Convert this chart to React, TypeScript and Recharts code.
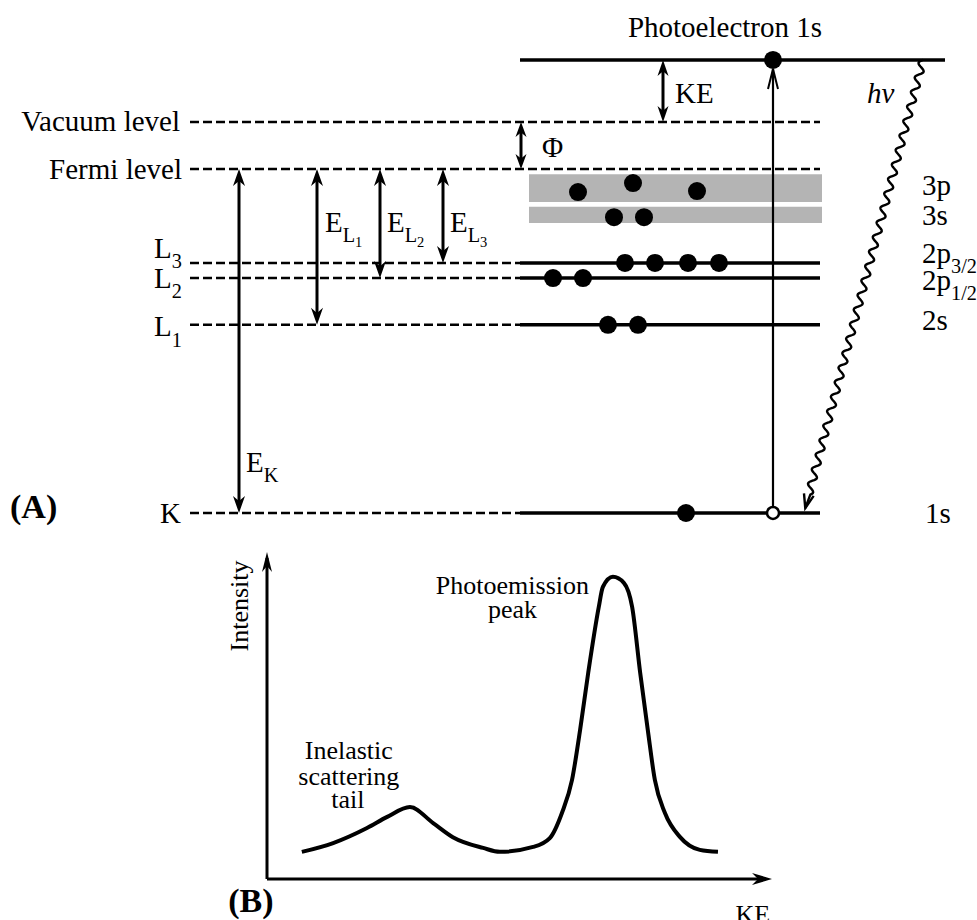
import React from "react";
import { ComposedChart, XAxis, YAxis, Scatter, Line, ReferenceLine, ReferenceArea } from "recharts";

const SERIF = '"Liberation Serif", "Times New Roman", serif';

// ---------- (A) energy levels, arbitrary energy units, Fermi level = 0
const photoelectronLevel = 31.7;
const levelNames = ["Vacuum level", "Fermi level", "L3", "L2", "L1", "K"];
const levelEnergies = [13.7, 0, -27.3, -31.7, -45.3, -100];
const bandNames = ["3p", "3s"];
const bandTops = [-1.5, -11.0];
const bandBottoms = [-9.6, -15.7];

// electrons: slot along the level and energy
const electronSlots = [773, 578, 633, 697, 614, 644, 625, 655, 688, 719, 553, 583, 608, 638, 686];
const electronEnergies = [31.7, -6.7, -4.1, -6.4, -14.0, -14.0, -27.3, -27.3, -27.3, -27.3, -31.7, -31.7, -45.3, -45.3, -100];
const holeSlot = 773;
const holeEnergy = -100;

// binding energy arrows: slot, from (Fermi) -> level
const bindingSlots = [239, 317, 380, 443];
const bindingLevels = [-100, -45.3, -31.7, -27.3];

// ---------- (B) spectrum
const kineticEnergy = [6.9, 13.1, 19.8, 23.8, 28.3, 32.9, 36.8, 42.8, 46.1, 52.7, 56.0, 58.4, 60.4, 62.0, 63.6, 65.7, 66.5, 68.5, 70.7, 72.3, 73.9, 75.4, 76.8, 78.8, 81.8, 85.7, 89.3];
const intensity = [8.3, 11.0, 15.6, 19.0, 22.0, 17.1, 12.8, 9.5, 8.3, 9.8, 12.5, 20.2, 30.3, 45.6, 63.0, 83.2, 89.3, 92.4, 90.5, 83.2, 63.0, 45.6, 30.3, 20.2, 12.8, 8.9, 8.3];
const spectrum = kineticEnergy.map((k, i) => ({ ke: k, intensity: intensity[i] }));

// layout
const A_X: [number, number] = [0, 977];
const A_Y: [number, number] = [-107.85, 49.13];
const B_X: [number, number] = [-52.87, 140.59];
const B_Y: [number, number] = [-12.54, 103.67];
const DASH_X0 = 190;
const SOLID_X0 = 520;
const LEVEL_X1 = 820;

type Part = [string, number];
interface Lbl {
  x: number;
  e: number;
  parts: Part[];
  anchor?: string;
  size?: number;
  bold?: boolean;
  italic?: boolean;
  rotate?: number;
}

const labelsA: Lbl[] = [
  { x: 725, e: 41.3, parts: [["Photoelectron 1s", 0]], anchor: "middle" },
  { x: 180, e: 13.7, parts: [[levelNames[0], 0]], anchor: "end" },
  { x: 182, e: 0, parts: [[levelNames[1], 0]], anchor: "end" },
  { x: 154, e: -23.0, parts: [["L", 0], ["3", 1]] },
  { x: 154, e: -31.7, parts: [["L", 0], ["2", 1]] },
  { x: 154, e: -45.9, parts: [["L", 0], ["1", 1]] },
  { x: 160, e: -100, parts: [[levelNames[5], 0]] },
  { x: 10, e: -98.3, parts: [["(A)", 0]], bold: true, size: 34 },
  { x: 246, e: -85.2, parts: [["E", 0], ["K", 1]] },
  { x: 325, e: -15.4, parts: [["E", 0], ["L", 1], ["1", 2]] },
  { x: 387, e: -15.4, parts: [["E", 0], ["L", 1], ["2", 2]] },
  { x: 450, e: -15.4, parts: [["E", 0], ["L", 1], ["3", 2]] },
  { x: 675, e: 22.1, parts: [["KE", 0]] },
  { x: 542, e: 6.4, parts: [["Φ", 0]] },
  { x: 867, e: 22.1, parts: [["hν", 0]], italic: true },
  { x: 922, e: -4.65, parts: [[bandNames[0], 0]] },
  { x: 922, e: -13.4, parts: [[bandNames[1], 0]] },
  { x: 922, e: -24.4, parts: [["2p", 0], ["3/2", 1]] },
  { x: 922, e: -32.3, parts: [["2p", 0], ["1/2", 1]] },
  { x: 922, e: -43.9, parts: [["2s", 0]] },
  { x: 925, e: -100, parts: [["1s", 0]] },
];

const labelsB: Lbl[] = [
  { x: 48.6, e: 89.9, parts: [["Photoemission", 0]], anchor: "middle" },
  { x: 48.6, e: 82.3, parts: [["peak", 0]], anchor: "middle" },
  { x: 16.2, e: 39.4, parts: [["Inelastic", 0]], anchor: "middle" },
  { x: 16.2, e: 31.5, parts: [["scattering", 0]], anchor: "middle" },
  { x: 16.0, e: 24.2, parts: [["tail", 0]], anchor: "middle" },
  { x: -5.5, e: 83.5, parts: [["Intensity", 0]], anchor: "middle", rotate: -90 },
  { x: -3.2, e: -6.6, parts: [["(B)", 0]], anchor: "middle", bold: true, size: 34 },
  { x: 96.2, e: -10.7, parts: [["KE", 0]], anchor: "middle" },
];

const OFF = [0, 0.36, 0.52];
const SCALE = [1, 0.7, 0.5];

function RichText({ x, y, l, def }: { x: number; y: number; l: Lbl; def: number }) {
  const size = l.size ?? def;
  const base = y + 0.33 * size;
  return (
    <text
      x={x}
      y={base}
      fontFamily={SERIF}
      fontSize={size}
      fontWeight={l.bold ? "bold" : "normal"}
      fontStyle={l.italic ? "italic" : "normal"}
      textAnchor={(l.anchor as any) ?? "start"}
      fill="#000"
      transform={l.rotate ? `rotate(${l.rotate} ${x} ${y})` : undefined}
    >
      {l.parts.map(([t, lvl], i) => {
        const prev = i > 0 ? l.parts[i - 1][1] : 0;
        const dy = (OFF[lvl] - OFF[prev]) * size;
        return (
          <tspan key={i} dy={dy} fontSize={size * SCALE[lvl]}>
            {t}
          </tspan>
        );
      })}
    </text>
  );
}

const labelShape = (def: number) => (p: any) => <RichText x={p.cx} y={p.cy} l={p.payload} def={def} />;

function head(tx: number, ty: number, ux: number, uy: number, len: number, half: number) {
  const bx = tx - ux * len;
  const by = ty - uy * len;
  const nx = tx - ux * len * 0.7;
  const ny = ty - uy * len * 0.7;
  return `M${tx},${ty}L${bx - uy * half},${by + ux * half}L${nx},${ny}L${bx + uy * half},${by - ux * half}Z`;
}

const doubleArrow = (w: number, len: number, half: number) => (p: any) => {
  const { x1, y1, x2, y2 } = p;
  const L = Math.hypot(x2 - x1, y2 - y1) || 1;
  const ux = (x2 - x1) / L;
  const uy = (y2 - y1) / L;
  return (
    <g>
      <line x1={x1 + ux * 6} y1={y1 + uy * 6} x2={x2 - ux * 6} y2={y2 - uy * 6} stroke="#000" strokeWidth={w} />
      <path d={head(x2, y2, ux, uy, len, half)} fill="#000" />
      <path d={head(x1, y1, -ux, -uy, len, half)} fill="#000" />
    </g>
  );
};

const singleArrow = (w: number, len: number, half: number) => (p: any) => {
  const { x1, y1, x2, y2 } = p;
  const L = Math.hypot(x2 - x1, y2 - y1) || 1;
  const ux = (x2 - x1) / L;
  const uy = (y2 - y1) / L;
  return (
    <g>
      <line x1={x1} y1={y1} x2={x2 - ux * 6} y2={y2 - uy * 6} stroke="#000" strokeWidth={w} />
      <path d={head(x2, y2, ux, uy, len, half)} fill="#000" />
    </g>
  );
};

// excitation: from hole to photoelectron, thin line, open chevron head
const exciteArrow = (p: any) => {
  const { x1, y1, x2, y2 } = p;
  const L = Math.hypot(x2 - x1, y2 - y1) || 1;
  const ux = (x2 - x1) / L;
  const uy = (y2 - y1) / L;
  const sx = x1 + ux * 6, sy = y1 + uy * 6;
  const tx = x2 - ux * 9, ty = y2 - uy * 9;
  const bx = tx - ux * 20, by = ty - uy * 20;
  return (
    <g>
      <line x1={sx} y1={sy} x2={tx} y2={ty} stroke="#000" strokeWidth={2.2} />
      <path d={`M${bx - uy * 5},${by + ux * 5}L${tx},${ty}L${bx + uy * 5},${by - ux * 5}`} fill="none" stroke="#000" strokeWidth={2} />
    </g>
  );
};

// photon: wavy line ending in an arrow
const waveArrow = (p: any) => {
  const { x1, y1, x2, y2 } = p;
  const L = Math.hypot(x2 - x1, y2 - y1) || 1;
  const ux = (x2 - x1) / L;
  const uy = (y2 - y1) / L;
  const nx = -uy, ny = ux;
  const end = L - 5;
  let d = `M${x1},${y1}`;
  for (let s = 1; s <= end - 14; s += 1) {
    const o = 3.6 * Math.sin((2 * Math.PI * s) / 15);
    d += `L${(x1 + ux * s + nx * o).toFixed(2)},${(y1 + uy * s + ny * o).toFixed(2)}`;
  }
  const tx = x1 + ux * end, ty = y1 + uy * end;
  d += `L${tx},${ty}`;
  const bx = tx - ux * 14, by = ty - uy * 14;
  return (
    <g>
      <path d={d} fill="none" stroke="#000" strokeWidth={2.4} />
      <path d={`M${bx + nx * 5},${by + ny * 5}L${tx},${ty}L${bx - nx * 5},${by - ny * 5}`} fill="none" stroke="#000" strokeWidth={2.4} />
    </g>
  );
};

export default function App() {
  const electrons = electronSlots.map((x, i) => ({ x, e: electronEnergies[i] }));
  return (
    <div style={{ position: "absolute", left: 0, top: 0, width: 977, height: 920, background: "#fff", overflow: "hidden" }}>
      <div style={{ position: "absolute", left: 0, top: 0 }}>
        <ComposedChart width={977} height={540} margin={{ top: 0, right: 0, bottom: 0, left: 0 }}>
          <XAxis type="number" dataKey="x" domain={A_X} hide allowDataOverflow />
          <YAxis type="number" dataKey="e" domain={A_Y} hide allowDataOverflow />
          {bandNames.map((b, i) => (
            <ReferenceArea key={b} x1={529} x2={822} y1={bandTops[i]} y2={bandBottoms[i]} fill="#b4b4b4" fillOpacity={1} stroke="none" ifOverflow="visible" />
          ))}
          {levelEnergies.map((e, i) => (
            <ReferenceLine
              key={"d" + i}
              segment={[{ x: DASH_X0, y: e }, { x: i < 2 ? LEVEL_X1 : SOLID_X0, y: e }]}
              stroke="#000"
              strokeWidth={2.5}
              strokeDasharray="9 4"
              ifOverflow="visible"
            />
          ))}
          {levelEnergies.slice(2).map((e, i) => (
            <ReferenceLine key={"s" + i} segment={[{ x: SOLID_X0, y: e }, { x: LEVEL_X1, y: e }]} stroke="#000" strokeWidth={3.5} ifOverflow="visible" />
          ))}
          <ReferenceLine segment={[{ x: SOLID_X0, y: photoelectronLevel }, { x: 945, y: photoelectronLevel }]} stroke="#000" strokeWidth={3.5} ifOverflow="visible" />
          {bindingSlots.map((x, i) => (
            <ReferenceLine key={"b" + i} segment={[{ x, y: 0 }, { x, y: bindingLevels[i] }]} ifOverflow="visible" shape={doubleArrow(3, 17, 6)} />
          ))}
          <ReferenceLine segment={[{ x: 663, y: photoelectronLevel }, { x: 663, y: levelEnergies[0] }]} ifOverflow="visible" shape={doubleArrow(3, 16, 5.5)} />
          <ReferenceLine segment={[{ x: 521, y: levelEnergies[0] }, { x: 521, y: 0 }]} ifOverflow="visible" shape={doubleArrow(3, 15, 5.5)} />
          <ReferenceLine segment={[{ x: holeSlot, y: holeEnergy }, { x: holeSlot, y: photoelectronLevel }]} ifOverflow="visible" shape={exciteArrow} />
          <ReferenceLine segment={[{ x: 923, y: photoelectronLevel }, { x: 804, y: holeEnergy }]} ifOverflow="visible" shape={waveArrow} />
          <Scatter
            data={electrons}
            dataKey="e"
            isAnimationActive={false}
            shape={(p: any) => <circle cx={p.cx} cy={p.cy} r={9} fill="#000" />}
          />
          <Scatter
            data={[{ x: holeSlot, e: holeEnergy }]}
            dataKey="e"
            isAnimationActive={false}
            shape={(p: any) => <circle cx={p.cx} cy={p.cy} r={6} fill="#fff" stroke="#000" strokeWidth={2.5} />}
          />
          <Scatter data={labelsA} dataKey="e" isAnimationActive={false} shape={labelShape(29)} />
        </ComposedChart>
      </div>
      <div style={{ position: "absolute", left: 0, top: 540 }}>
        <ComposedChart width={977} height={380} margin={{ top: 0, right: 0, bottom: 0, left: 0 }} data={spectrum}>
          <XAxis type="number" dataKey="ke" domain={B_X} hide allowDataOverflow />
          <YAxis type="number" domain={B_Y} hide allowDataOverflow />
          <ReferenceLine segment={[{ x: 0, y: 0 }, { x: 100, y: 0 }]} ifOverflow="visible" shape={singleArrow(3, 20, 6)} />
          <ReferenceLine segment={[{ x: 0, y: 0 }, { x: 0, y: 100 }]} ifOverflow="visible" shape={singleArrow(3, 20, 5)} />
          <Line type="monotone" dataKey="intensity" stroke="#000" strokeWidth={4} dot={false} activeDot={false} isAnimationActive={false} />
          <Scatter
            data={labelsB.map((l) => ({ ...l, ke: l.x, intensity: l.e }))}
            dataKey="intensity"
            isAnimationActive={false}
            shape={labelShape(26)}
          />
        </ComposedChart>
      </div>
    </div>
  );
}
